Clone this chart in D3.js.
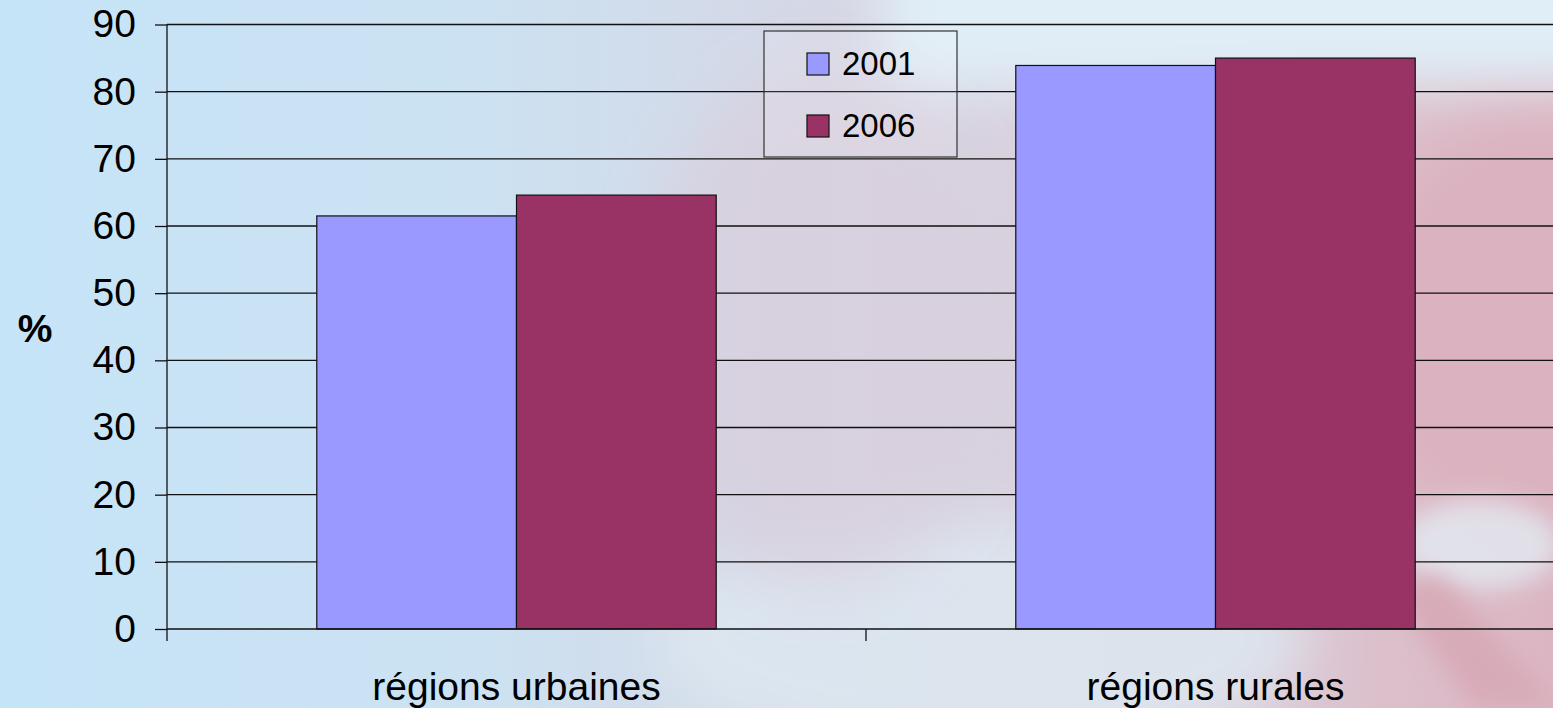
<!DOCTYPE html>
<html>
<head>
<meta charset="utf-8">
<script src="https://cdn.jsdelivr.net/npm/d3@7"></script>
<style>
  html, body { margin: 0; padding: 0; overflow: hidden; }
  svg { display: block; font-family: "Liberation Sans", Arial, sans-serif; }
</style>
</head>
<body>
<svg id="chart" width="1553" height="708"></svg>
<script>
// ---- data ----
const categories = ["régions urbaines", "régions rurales"];
const seriesNames = ["2001", "2006"];
const values2001 = [61.5, 83.9];
const values2006 = [64.6, 85.0];
const yTicks = [0, 10, 20, 30, 40, 50, 60, 70, 80, 90];
const yLabel = "%";
const seriesColors = ["#9999FF", "#993366"];

const seriesValues = [values2001, values2006];
const table = categories.map((c, i) => ({
  category: c,
  values: seriesNames.map((s, j) => ({ series: s, value: seriesValues[j][i], color: seriesColors[j] }))
}));

const W = 1553, H = 708;
const svg = d3.select("#chart");

// ---- background (decorative) ----
const defs = svg.append("defs");
const bg = defs.append("linearGradient").attr("id", "bg").attr("x1", "0").attr("x2", "1").attr("y1", "0").attr("y2", "0");
[["0%", "#c6e4f8"], ["30%", "#cce2f2"], ["55%", "#d6d6e4"], ["78%", "#dbcad6"], ["100%", "#dbb6c2"]]
  .forEach(([o, c]) => bg.append("stop").attr("offset", o).attr("stop-color", c));
defs.append("filter").attr("id", "blur").attr("x", "-50%").attr("y", "-50%").attr("width", "200%").attr("height", "200%")
  .append("feGaussianBlur").attr("stdDeviation", 28);
defs.append("filter").attr("id", "blur2").attr("x", "-50%").attr("y", "-50%").attr("width", "200%").attr("height", "200%")
  .append("feGaussianBlur").attr("stdDeviation", 12);

svg.append("rect").attr("width", W).attr("height", H).attr("fill", "url(#bg)");
const deco = svg.append("g");
deco.append("rect").attr("x", 880).attr("y", -60).attr("width", 760).attr("height", 150)
  .attr("fill", "#e0eef7").attr("filter", "url(#blur)");
deco.append("ellipse").attr("cx", 1520).attr("cy", 330).attr("rx", 170).attr("ry", 200)
  .attr("fill", "#dbb2bf").attr("filter", "url(#blur)");
deco.append("ellipse").attr("cx", 980).attr("cy", 640).attr("rx", 330).attr("ry", 120)
  .attr("fill", "#dde8f1").attr("opacity", 0.85).attr("filter", "url(#blur)");
deco.append("ellipse").attr("cx", 1480).attr("cy", 545).attr("rx", 80).attr("ry", 45)
  .attr("fill", "#e3ebf3").attr("opacity", 0.8).attr("filter", "url(#blur2)");
deco.append("polygon").attr("points", "1390,590 1440,575 1553,700 1553,708 1475,708")
  .attr("fill", "#d8aab8").attr("filter", "url(#blur2)");
deco.append("ellipse").attr("cx", 820).attr("cy", 330).attr("rx", 180).attr("ry", 260)
  .attr("fill", "#d9cfdd").attr("opacity", 0.7).attr("filter", "url(#blur)");

// ---- scales ----
const plotLeft = 167, plotRight = 1565, yZero = 629, yTop = 24.5;
const y = d3.scaleLinear().domain([0, 90]).range([yZero, yTop]);
const x0 = d3.scaleBand().domain(categories).range([plotLeft, plotRight]).padding(0);
const barW = x0.bandwidth() / 3.5;
const x1 = d3.scaleBand().domain(seriesNames).range([0.75 * barW, x0.bandwidth() - 0.75 * barW]).padding(0);

// ---- gridlines ----
svg.append("g").selectAll("line").data(yTicks.filter(t => t > 0)).join("line")
  .attr("x1", plotLeft).attr("x2", plotRight)
  .attr("y1", d => y(d)).attr("y2", d => y(d))
  .attr("stroke", "#111").attr("stroke-width", 1.3);

// ---- bars ----
const groups = svg.append("g").selectAll("g").data(table).join("g")
  .attr("transform", d => `translate(${x0(d.category)},0)`);
groups.selectAll("rect").data(d => d.values).join("rect")
  .attr("x", d => x1(d.series))
  .attr("y", d => y(d.value))
  .attr("width", x1.bandwidth())
  .attr("height", d => y(0) - y(d.value))
  .attr("fill", d => d.color)
  .attr("stroke", "#111").attr("stroke-width", 1.2);

// ---- y axis ----
const yAxis = d3.axisLeft(y).tickValues(yTicks).tickSize(12).tickPadding(19).tickFormat(d3.format("d"));
const gy = svg.append("g").attr("transform", `translate(${plotLeft},0)`).call(yAxis);
gy.select(".domain").remove();
gy.append("line").attr("x1", 0).attr("x2", 0).attr("y1", yTop).attr("y2", yZero + 12)
  .attr("stroke", "#111").attr("stroke-width", 1.3);
gy.selectAll(".tick line").attr("stroke", "#111").attr("stroke-width", 1.3);
gy.selectAll(".tick text").attr("font-size", 39).attr("fill", "#000")
  .attr("font-family", "'Liberation Sans', Arial, sans-serif");

// ---- x axis ----
const xAxis = d3.axisBottom(x0).tickSize(0).tickPadding(0);
const gx = svg.append("g").attr("transform", `translate(0,${yZero})`).call(xAxis);
gx.select(".domain").remove();
gx.append("line").attr("x1", plotLeft).attr("x2", plotRight).attr("y1", 0).attr("y2", 0)
  .attr("stroke", "#111").attr("stroke-width", 1.3);
gx.selectAll(".tick text").attr("font-size", 39).attr("fill", "#000").attr("dy", null).attr("y", 71)
  .attr("font-family", "'Liberation Sans', Arial, sans-serif");
// category boundary ticks
gx.append("g").selectAll("line").data(categories.slice(1)).join("line")
  .attr("x1", d => x0(d)).attr("x2", d => x0(d)).attr("y1", 0).attr("y2", 12)
  .attr("stroke", "#111").attr("stroke-width", 1.3);

// ---- y label ----
svg.append("text").attr("x", 35).attr("y", 342).attr("text-anchor", "middle")
  .attr("font-size", 39).attr("font-weight", "bold").attr("fill", "#000").text(yLabel);

// ---- legend ----
const legend = svg.append("g").attr("transform", "translate(764,31)");
legend.append("rect").attr("width", 193).attr("height", 126)
  .attr("fill", "#ffffff").attr("fill-opacity", 0.12)
  .attr("stroke", "#333").attr("stroke-width", 1.2);
const li = legend.selectAll("g.item").data(seriesNames).join("g").attr("class", "item")
  .attr("transform", (d, i) => `translate(43,${22 + i * 62})`);
li.append("rect").attr("width", 22).attr("height", 22)
  .attr("fill", (d, i) => seriesColors[i]).attr("stroke", "#111").attr("stroke-width", 1.2);
li.append("text").attr("x", 35).attr("y", 22).attr("font-size", 33).attr("fill", "#000").text(d => d);
</script>
</body>
</html>
